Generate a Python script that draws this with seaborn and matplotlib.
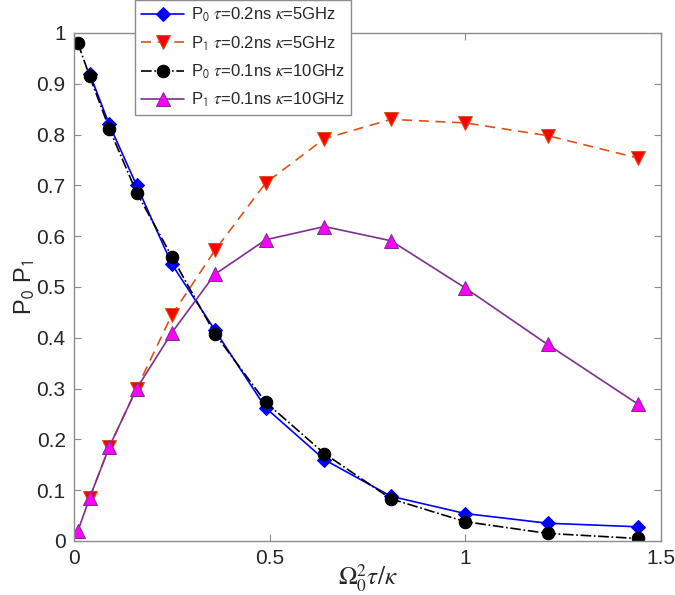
import numpy as np
import pandas as pd
import seaborn as sns
import matplotlib
matplotlib.use("Agg")
import matplotlib.pyplot as plt

# x = Omega_0^2 tau / kappa
x_all = [0.01, 0.04, 0.09, 0.16, 0.25, 0.36, 0.49, 0.64, 0.81, 1.0, 1.21, 1.44]
x_02 = x_all[1:]

p0_02 = [0.92, 0.82, 0.70, 0.545, 0.415, 0.262, 0.16, 0.088, 0.054, 0.035, 0.028]
p1_02 = [0.085, 0.185, 0.30, 0.445, 0.572, 0.705, 0.792, 0.830, 0.823, 0.798, 0.754]
p0_01 = [0.98, 0.915, 0.812, 0.686, 0.56, 0.408, 0.273, 0.172, 0.083, 0.038, 0.015, 0.005]
p1_01 = [0.02, 0.085, 0.185, 0.30, 0.41, 0.525, 0.593, 0.619, 0.591, 0.498, 0.387, 0.27]

labels = [r"P$_{\mathsf{0}}$ $\tau$=0.2ns $\kappa$=5GHz",
          r"P$_{\mathsf{1}}$ $\tau$=0.2ns $\kappa$=5GHz",
          r"P$_{\mathsf{0}}$ $\tau$=0.1ns $\kappa$=10GHz",
          r"P$_{\mathsf{1}}$ $\tau$=0.1ns $\kappa$=10GHz"]

sns.set_style("white")
plt.rcParams["font.family"] = ["Liberation Sans", "DejaVu Sans"]
plt.rcParams["mathtext.fontset"] = "stix"

fig = plt.figure(figsize=(6.75, 5.95), dpi=100)
ax = fig.add_axes([74 / 675, 1 - 541 / 595, (661 - 74) / 675, (541 - 33) / 595])

sns.lineplot(x=x_02, y=p0_02, ax=ax, color="#0000FF", linestyle="-", lw=1.2,
             marker="D", markersize=7, markerfacecolor="#0000FF",
             markeredgecolor="#0000FF", label=labels[0])
sns.lineplot(x=x_02, y=p1_02, ax=ax, color="#D95319", linestyle=(0, (6, 4)), lw=1.2,
             marker="v", markersize=10, markerfacecolor="#FF0000",
             markeredgecolor="#D95319", label=labels[1])
sns.lineplot(x=x_all, y=p0_01, ax=ax, color="black", linestyle="-.", lw=1.2,
             marker="o", markersize=9, markerfacecolor="black",
             markeredgecolor="black", label=labels[2])
sns.lineplot(x=x_all, y=p1_01, ax=ax, color="#7E2F8E", linestyle="-", lw=1.2,
             marker="^", markersize=10, markerfacecolor="#FF00FF",
             markeredgecolor="#7E2F8E", label=labels[3])

ax.set_xlim(0, 1.5)
ax.set_ylim(0, 1)
ax.set_xticks([0, 0.5, 1, 1.5])
ax.set_xticklabels(["0", "0.5", "1", "1.5"])
ax.set_yticks(np.round(np.arange(0, 1.01, 0.1), 1))
ax.set_yticklabels(["0", "0.1", "0.2", "0.3", "0.4", "0.5", "0.6", "0.7", "0.8", "0.9", "1"])

for s in ax.spines.values():
    s.set_color("#8c8c8c")
    s.set_linewidth(1.0)
ax.tick_params(direction="in", length=5, width=0.8, color="#8c8c8c",
               labelsize=15, labelcolor="#262626",
               bottom=True, left=True, top=True, right=True, pad=6)

ax.set_xlabel(r"$\Omega_0^2\tau/\kappa$", fontsize=18, labelpad=-4)
ax.set_ylabel(r"P$_{\mathsf{0}}$ P$_{\mathsf{1}}$", fontsize=17, labelpad=0)

leg = ax.legend(loc="upper left", bbox_to_anchor=(135 / 675, 1.0),
                bbox_transform=fig.transFigure, fontsize=12, frameon=True,
                fancybox=False, framealpha=1, edgecolor="#8c8c8c",
                handlelength=2.6, labelspacing=0.6, borderpad=0.35,
                handletextpad=0.4, borderaxespad=0)
leg.get_frame().set_linewidth(1.0)

fig.savefig("out.png", dpi=100)
